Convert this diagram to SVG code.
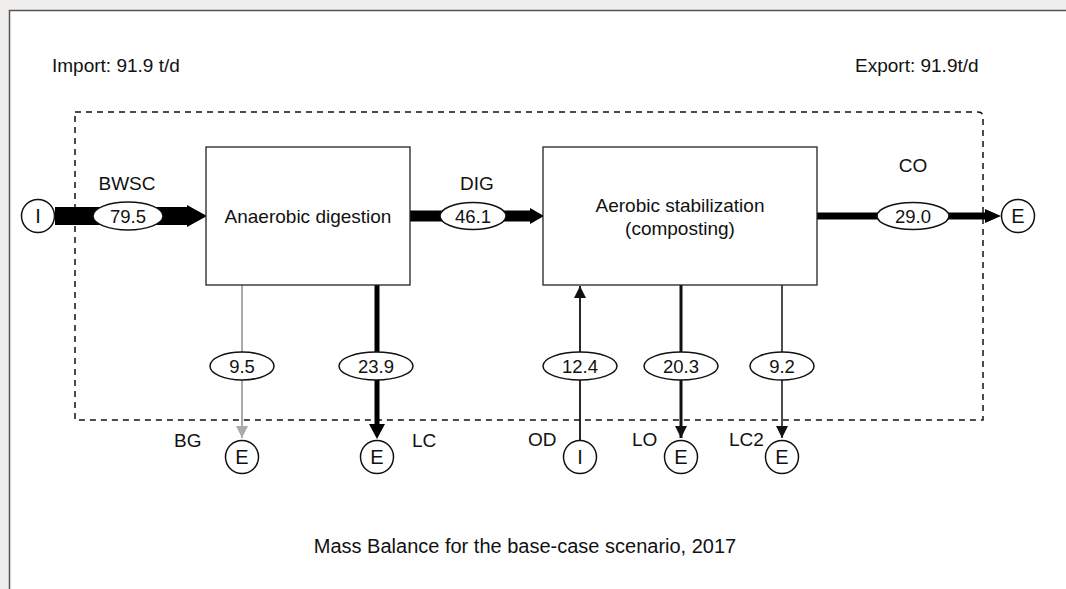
<svg xmlns="http://www.w3.org/2000/svg" width="1066" height="589" viewBox="0 0 1066 589">
<style>
text{font-family:"Liberation Sans",Arial,sans-serif;font-size:19px;fill:#111}
.c{text-anchor:middle}
.v{font-size:18.5px}
.t{font-size:20px}
.box{fill:#fff;stroke:#222;stroke-width:1.3}
.ell{fill:#fff;stroke:#111;stroke-width:1.5}
.term{fill:#fff;stroke:#111;stroke-width:1.5}
</style>
<defs>
<marker id="ah" viewBox="0 0 10 10" refX="10" refY="5" markerWidth="12" markerHeight="12" markerUnits="userSpaceOnUse" orient="auto"><path d="M0,0L10,5L0,10z" fill="#111"/></marker>
<marker id="ahg" viewBox="0 0 10 10" refX="10" refY="5" markerWidth="12" markerHeight="12" markerUnits="userSpaceOnUse" orient="auto"><path d="M0,0L10,5L0,10z" fill="#aaa"/></marker>
</defs>
<rect width="1066" height="589" fill="#efeeec"/>
<rect x="9.5" y="10.5" width="1060" height="590" fill="#fff" stroke="#555" stroke-width="1.5"/>
<text x="52" y="72">Import: 91.9 t/d</text>
<text x="855" y="72">Export: 91.9t/d</text>
<path d="M75,112 H978 Q983,112 983,117 V420 H75 Z" fill="none" stroke="#111" stroke-width="1.5" stroke-dasharray="6,5"/>
<g id="connectors">
<path d="M55,207 H187 V205 L207,216 L187,227 V225 H55 Z" fill="#000"/>
<path d="M410,210.5 H530 V208 L544,216 L530,224 V221.5 H410 Z" fill="#000"/>
<path d="M817,212.5 H985 V209 L1001,216 L985,223 V219.5 H817 Z" fill="#000"/>
<line x1="242" y1="285" x2="242" y2="438" stroke="#aaa" stroke-width="2" marker-end="url(#ahg)"/>
<line x1="377" y1="285" x2="377" y2="426" stroke="#000" stroke-width="5"/>
<path d="M369,424 L377,439 L385,424 Z" fill="#000"/>
<line x1="580" y1="441" x2="580" y2="286" stroke="#111" stroke-width="1.8" marker-end="url(#ah)"/>
<line x1="681" y1="285" x2="681" y2="438" stroke="#111" stroke-width="3" marker-end="url(#ah)"/>
<line x1="782" y1="285" x2="782" y2="438" stroke="#111" stroke-width="1.5" marker-end="url(#ah)"/>
<ellipse class="ell" cx="128" cy="216" rx="35" ry="14"/><text class="c v" x="128" y="223">79.5</text>
<ellipse class="ell" cx="473" cy="216" rx="33" ry="13.5"/><text class="c v" x="473" y="223">46.1</text>
<ellipse class="ell" cx="913" cy="216" rx="36" ry="13.5"/><text class="c v" x="913" y="223">29.0</text>
<ellipse class="ell" cx="242" cy="366" rx="32" ry="14"/><text class="c v" x="242" y="373">9.5</text>
<ellipse class="ell" cx="376" cy="366" rx="37" ry="14"/><text class="c v" x="376" y="373">23.9</text>
<ellipse class="ell" cx="580" cy="366" rx="37" ry="14"/><text class="c v" x="580" y="373">12.4</text>
<ellipse class="ell" cx="681" cy="366" rx="37" ry="14"/><text class="c v" x="681" y="373">20.3</text>
<ellipse class="ell" cx="782" cy="366" rx="32" ry="14"/><text class="c v" x="782" y="373">9.2</text>
<text class="c" x="127" y="190">BWSC</text>
<text class="c" x="477" y="190">DIG</text>
<text class="c" x="913" y="172">CO</text>
<text x="174" y="447">BG</text>
<text x="412" y="447">LC</text>
<text x="528" y="446">OD</text>
<text x="632" y="446">LO</text>
<text x="729" y="446">LC2</text>
</g>
<g id="n-anaerobic"><rect class="box" x="206" y="147" width="204" height="138"/><text class="c" x="308" y="223">Anaerobic digestion</text></g>
<g id="n-aerobic"><rect class="box" x="543" y="147" width="274" height="138"/><text class="c" x="680" y="212">Aerobic stabilization</text><text class="c" x="680" y="235">(composting)</text></g>
<g id="t-i-bwsc"><circle class="term" cx="38" cy="216" r="16.5"/><text class="c t" x="38" y="223">I</text></g>
<g id="t-e-co"><circle class="term" cx="1018" cy="216" r="16.5"/><text class="c t" x="1018" y="223">E</text></g>
<g id="t-e-bg"><circle class="term" cx="242" cy="457" r="16.5"/><text class="c t" x="242" y="464">E</text></g>
<g id="t-e-lc"><circle class="term" cx="377" cy="457" r="16.5"/><text class="c t" x="377" y="464">E</text></g>
<g id="t-i-od"><circle class="term" cx="580" cy="457" r="16.5"/><text class="c t" x="580" y="464">I</text></g>
<g id="t-e-lo"><circle class="term" cx="681" cy="457" r="16.5"/><text class="c t" x="681" y="464">E</text></g>
<g id="t-e-lc2"><circle class="term" cx="782" cy="457" r="16.5"/><text class="c t" x="782" y="464">E</text></g>
<text class="c t" x="525" y="553">Mass Balance for the base-case scenario, 2017</text>
</svg>
